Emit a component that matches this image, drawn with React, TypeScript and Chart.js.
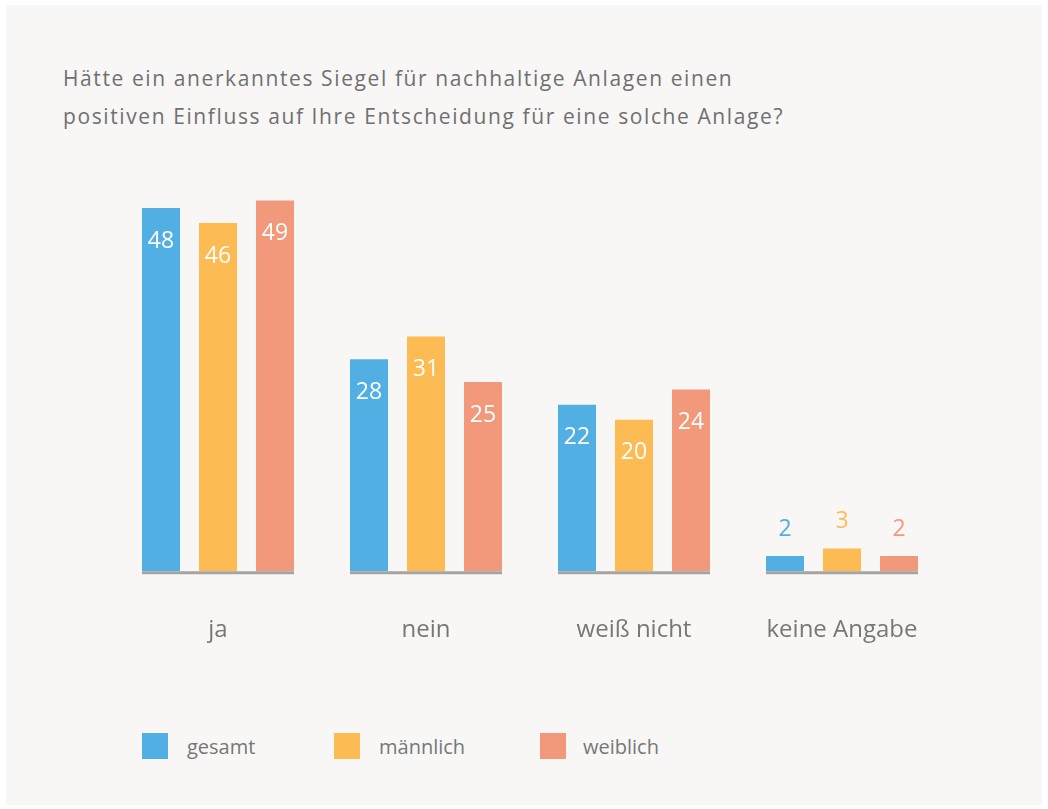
import React, { useEffect, useRef } from "react";
import { Chart, registerables } from "chart.js";

Chart.register(...registerables);

const categories = ["ja", "nein", "weiß nicht", "keine Angabe"];
const seriesNames = ["gesamt", "männlich", "weiblich"];
const gesamt = [48, 28, 22, 2];
const maennlich = [46, 31, 20, 3];
const weiblich = [49, 25, 24, 2];
const seriesColors = ["#52afe3", "#fdbc53", "#f2997c"];
const titleLines = [
  "Hätte ein anerkanntes Siegel für nachhaltige Anlagen einen",
  "positiven Einfluss auf Ihre Entscheidung für eine solche Anlage?",
];

const FONT = "'Open Sans', Lato, sans-serif";

const valueLabels = {
  id: "valueLabels",
  afterDatasetsDraw(chart: any) {
    const ctx = chart.ctx;
    ctx.save();
    ctx.font = `400 23px ${FONT}`;
    ctx.textAlign = "center";
    ctx.textBaseline = "middle";
    chart.data.datasets.forEach((ds: any, di: number) => {
      const meta = chart.getDatasetMeta(di);
      meta.data.forEach((el: any, i: number) => {
        const v = ds.data[i];
        if (v >= 10) {
          ctx.fillStyle = "#ffffff";
          ctx.fillText(String(v), el.x, el.y + 33);
        } else {
          ctx.fillStyle = ds.backgroundColor;
          ctx.fillText(String(v), el.x, el.y - 27);
        }
      });
    });
    ctx.restore();
  },
};

const groupBaseline = {
  id: "groupBaseline",
  afterDatasetsDraw(chart: any) {
    const ctx = chart.ctx;
    const first = chart.getDatasetMeta(0);
    const last = chart.getDatasetMeta(chart.data.datasets.length - 1);
    const y = chart.chartArea.bottom + 1.5;
    ctx.save();
    ctx.strokeStyle = "#a4a4a4";
    ctx.lineWidth = 3;
    first.data.forEach((el: any, i: number) => {
      const l = last.data[i];
      ctx.beginPath();
      ctx.moveTo(el.x - el.width / 2, y);
      ctx.lineTo(l.x + l.width / 2, y);
      ctx.stroke();
    });
    ctx.restore();
  },
};

export default function App() {
  const ref = useRef<HTMLCanvasElement | null>(null);

  useEffect(() => {
    if (!ref.current) return;
    const data = [gesamt, maennlich, weiblich];
    const chart = new Chart(ref.current, {
      type: "bar",
      data: {
        labels: categories,
        datasets: seriesNames.map((name, i) => ({
          label: name,
          data: data[i],
          backgroundColor: seriesColors[i],
          borderWidth: 0,
          categoryPercentage: 0.822,
          barPercentage: 0.667,
        })),
      },
      options: {
        responsive: false,
        animation: false,
        events: [],
        layout: { padding: { left: 114, right: 102, top: 15, bottom: 0 } },
        plugins: {
          legend: { display: false },
          tooltip: { enabled: false },
          title: { display: false },
        },
        scales: {
          x: {
            grid: { display: false, drawTicks: false },
            border: { display: false },
            ticks: {
              color: "#777777",
              font: { family: FONT, size: 24 },
              padding: 45,
            },
          },
          y: { display: false, min: 0, max: 55 },
        },
      },
      plugins: [valueLabels, groupBaseline],
    });
    return () => chart.destroy();
  }, []);

  return (
    <div style={{ position: "absolute", left: 0, top: 0, width: 1048, height: 809, background: "#ffffff", fontFamily: FONT }}>
      <div style={{ position: "absolute", left: 6, top: 5, width: 1036, height: 800, background: "#f8f7f6" }} />
      <div style={{ position: "absolute", left: 63, top: 59, color: "#707070", fontSize: 21, lineHeight: "38px", letterSpacing: "1.6px", whiteSpace: "nowrap" }}>
        {titleLines.map((t, i) => (
          <div key={i}>{t}</div>
        ))}
      </div>
      <canvas ref={ref} width={1048} height={550} style={{ position: "absolute", left: 0, top: 140 }} />
      {seriesNames.map((name, i) => (
        <div key={name} style={{ position: "absolute", left: [142, 334, 540][i], top: 733, height: 26, display: "flex", alignItems: "center" }}>
          <div style={{ width: 26, height: 26, background: seriesColors[i] }} />
          <div style={{ marginLeft: [19, 19, 17][i], color: "#777777", fontSize: 20 }}>{name}</div>
        </div>
      ))}
    </div>
  );
}
